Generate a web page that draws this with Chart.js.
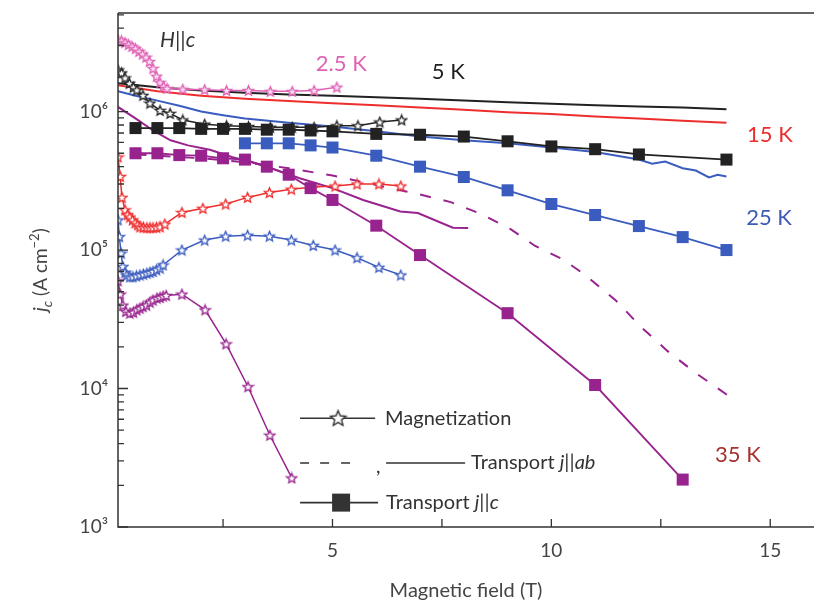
<!DOCTYPE html>
<html>
<head>
<meta charset="utf-8">
<script src="https://cdn.jsdelivr.net/npm/chart.js@4.4.0/dist/chart.umd.min.js"></script>
<style>
  html, body { margin: 0; padding: 0; background: #fff; }
</style>
</head>
<body>
<canvas id="myChart" width="814" height="605"></canvas>
<script>
// magnetic field (T) and jc (A cm^-2)

// magnetization (stars)
const mag2p5X = [0.1,0.18,0.26,0.34,0.42,0.5,0.58,0.66,0.74,0.82,0.9,0.98,1.06,1.14,1.22,1.58,2.08,2.58,3.08,3.58,4.08,4.58,5.1];
const mag2p5Y = [3.3e6,3.25e6,3.15e6,3.05e6,2.95e6,2.85e6,2.72e6,2.6e6,2.47e6,2.3e6,2.05e6,1.8e6,1.62e6,1.52e6,1.47e6,1.45e6,1.44e6,1.42e6,1.42e6,1.4e6,1.4e6,1.42e6,1.5e6];

const mag5X = [0.1,0.18,0.26,0.36,0.45,0.53,0.67,0.83,1.06,1.29,1.58,2.08,2.58,3.08,3.58,4.08,4.58,5.1,5.58,6.08,6.58];
const mag5Y = [2.0e6,1.9e6,1.75e6,1.6e6,1.5e6,1.43e6,1.31e6,1.15e6,1.02e6,9.7e5,8.7e5,8.1e5,7.9e5,7.8e5,7.7e5,7.7e5,7.7e5,7.9e5,7.9e5,8.4e5,8.7e5];

const mag15X = [0.1,0.15,0.19,0.26,0.32,0.37,0.43,0.49,0.55,0.6,0.68,0.76,0.83,0.9,0.98,1.06,1.17,1.56,2.04,2.56,3.06,3.56,4.06,4.56,5.06,5.56,6.06,6.56];
const mag15Y = [4.7e5,3.4e5,2.4e5,1.95e5,1.8e5,1.73e5,1.65e5,1.57e5,1.52e5,1.47e5,1.46e5,1.45e5,1.45e5,1.45e5,1.46e5,1.47e5,1.54e5,1.87e5,2.0e5,2.15e5,2.4e5,2.6e5,2.75e5,2.85e5,2.9e5,3.0e5,3.0e5,2.9e5];

const mag25X = [0.1,0.13,0.17,0.21,0.26,0.3,0.37,0.44,0.52,0.6,0.68,0.76,0.83,0.9,0.98,1.06,1.13,1.56,2.08,2.56,3.06,3.56,4.06,4.56,5.06,5.56,6.06,6.56];
const mag25Y = [1.65e5,1.25e5,9.5e4,7.6e4,6.9e4,6.6e4,6.4e4,6.4e4,6.5e4,6.6e4,6.7e4,6.8e4,6.9e4,7.0e4,7.2e4,7.4e4,7.8e4,1.0e5,1.18e5,1.26e5,1.28e5,1.26e5,1.18e5,1.08e5,1.0e5,8.8e4,7.5e4,6.6e4];

const mag35X = [0.1,0.15,0.21,0.28,0.37,0.45,0.53,0.6,0.67,0.75,0.83,0.9,0.99,1.06,1.13,1.2,1.56,2.09,2.57,3.07,3.57,4.07];
const mag35Y = [6.0e4,4.8e4,4.0e4,3.6e4,3.5e4,3.55e4,3.7e4,3.8e4,3.9e4,4.0e4,4.2e4,4.35e4,4.5e4,4.55e4,4.65e4,4.7e4,4.8e4,3.7e4,2.1e4,1.03e4,4.6e3,2.26e3];

// transport j||ab (lines)
const ab5X = [0.1,1,2,3,4,5,6,7,8,9,10,11,12,13,14];
const ab5Y = [1.6e6,1.5e6,1.42e6,1.37e6,1.33e6,1.3e6,1.27e6,1.24e6,1.2e6,1.17e6,1.14e6,1.11e6,1.09e6,1.07e6,1.04e6];

const ab15X = [0.1,1,2,3,4,5,6,7,8,9,10,11,12,13,14];
const ab15Y = [1.55e6,1.4e6,1.3e6,1.24e6,1.19e6,1.15e6,1.11e6,1.07e6,1.03e6,9.9e5,9.6e5,9.2e5,8.9e5,8.6e5,8.3e5];

const ab25X = [0.1,0.5,1,1.5,2,2.5,3,4,5,6,7,8,9,10,10.5,11,11.5,12,12.3,12.6,13,13.3,13.6,13.8,14];
const ab25Y = [1.4e6,1.3e6,1.2e6,1.1e6,1.0e6,9.4e5,8.9e5,8.3e5,7.8e5,7.2e5,6.6e5,6.2e5,5.9e5,5.5e5,5.3e5,5.1e5,4.8e5,4.5e5,4.2e5,4.35e5,3.9e5,3.75e5,3.35e5,3.5e5,3.4e5];

const ab35X = [0.1,0.55,0.9,1.3,1.7,2.2,2.7,3.4,4.25,5.0,5.7,6.55,6.95,7.75,8.1];
const ab35Y = [1.08e6,8.7e5,7.3e5,6.2e5,5.7e5,5.3e5,4.7e5,4.1e5,3.3e5,2.8e5,2.3e5,1.9e5,1.85e5,1.45e5,1.44e5];

const ab35dashX = [0.5,1,2,3,4,5,6,6.95,7.7,8.4,9.06,9.63,10.25,10.75,11.48,12.05,12.65,13.26,14.06];
const ab35dashY = [4.9e5,4.8e5,4.6e5,4.3e5,3.9e5,3.45e5,2.95e5,2.54e5,2.22e5,1.82e5,1.42e5,1.07e5,8.6e4,6.7e4,4.3e4,2.78e4,1.87e4,1.32e4,8.8e3];

// transport j||c (squares)
const c5X = [0.5,1,1.5,2,2.5,3,3.5,4,4.5,5,6,7,8,9,10,11,12,14];
const c5Y = [7.6e5,7.6e5,7.6e5,7.5e5,7.5e5,7.5e5,7.4e5,7.4e5,7.3e5,7.2e5,6.9e5,6.8e5,6.6e5,6.1e5,5.6e5,5.35e5,4.9e5,4.5e5];

const c25X = [3,3.5,4,4.5,5,6,7,8,9,10,11,12,13,14];
const c25Y = [5.9e5,5.9e5,5.9e5,5.7e5,5.5e5,4.8e5,4.0e5,3.37e5,2.7e5,2.15e5,1.79e5,1.49e5,1.24e5,1.0e5];

const c35X = [0.5,1,1.5,2,2.5,3,3.5,4,4.5,5,6,7,9,11,13];
const c35Y = [5.0e5,5.0e5,4.85e5,4.8e5,4.6e5,4.5e5,4.0e5,3.5e5,2.8e5,2.3e5,1.5e5,9.2e4,3.5e4,1.06e4,2.2e3];

// axis ticks
const xTickVals = [2.5, 5, 7.5, 10, 12.5, 15];
const xLabelVals = [5, 10, 15];
const yDecades = [3, 4, 5, 6];

// temperature labels, anchored in data coordinates
const tempLabels = [
  { text: "2.5 K", x: 4.62, y: 2.2e6, color: "#e062b6" },
  { text: "5 K", x: 7.27, y: 1.93e6, color: "#222222" },
  { text: "15 K", x: 14.47, y: 6.8e5, color: "#ee2d2d" },
  { text: "25 K", x: 14.45, y: 1.7e5, color: "#3d5bb3" },
  { text: "35 K", x: 13.74, y: 3.3e3, color: "#a5322f" }
];

const PINK = "#e062b6", BLACK = "#222222", RED = "#ee2d2d", BLUE = "#3b5cbf", PURPLE = "#98238e";
const FONT = "Lato, 'Open Sans', sans-serif";

function pts(xs, ys) {
  return xs.map((v, i) => ({ x: v, y: ys[i] }));
}

function starImage(color, size, lw, fill) {
  const c = document.createElement("canvas");
  c.width = size; c.height = size;
  const g = c.getContext("2d");
  const R = size / 2 - lw, r = R * 0.45, cx = size / 2, cy = size / 2 + 0.5;
  g.beginPath();
  for (let i = 0; i < 10; i++) {
    const a = -Math.PI / 2 + i * Math.PI / 5;
    const rad = i % 2 ? r : R;
    g.lineTo(cx + rad * Math.cos(a), cy + rad * Math.sin(a));
  }
  g.closePath();
  g.fillStyle = fill || "#fff";
  g.fill();
  g.lineWidth = lw;
  g.strokeStyle = color;
  g.stroke();
  return c;
}

function starSet(label, xs, ys, color, fill) {
  return {
    label: label, data: pts(xs, ys), order: 1,
    borderColor: color, backgroundColor: color, borderWidth: 1.5,
    pointStyle: starImage(color, 13, 1.3, fill), pointRadius: 6
  };
}

function squareSet(label, xs, ys, color) {
  return {
    label: label, data: pts(xs, ys), order: 0,
    borderColor: color, backgroundColor: color, borderWidth: 1.8,
    pointStyle: "rect", pointRadius: 8.5, pointBorderWidth: 0
  };
}

function lineSet(label, xs, ys, color, dash) {
  return {
    label: label, data: pts(xs, ys), order: 2,
    borderColor: color, backgroundColor: color, borderWidth: 2,
    borderDash: dash || [], pointRadius: 0
  };
}

const datasets = [
  squareSet("5 K j||c", c5X, c5Y, BLACK),
  squareSet("25 K j||c", c25X, c25Y, BLUE),
  squareSet("35 K j||c", c35X, c35Y, PURPLE),
  starSet("2.5 K magnetization", mag2p5X, mag2p5Y, PINK, "#f7dcee"),
  starSet("5 K magnetization", mag5X, mag5Y, BLACK),
  starSet("15 K magnetization", mag15X, mag15Y, RED),
  starSet("25 K magnetization", mag25X, mag25Y, BLUE),
  starSet("35 K magnetization", mag35X, mag35Y, PURPLE),
  lineSet("5 K j||ab", ab5X, ab5Y, BLACK),
  lineSet("15 K j||ab", ab15X, ab15Y, RED),
  lineSet("25 K j||ab", ab25X, ab25Y, BLUE),
  lineSet("35 K j||ab", ab35X, ab35Y, PURPLE),
  lineSet("35 K j||ab (dashed)", ab35dashX, ab35dashY, PURPLE, [11, 13])
];

const SUP = { "0": "⁰", "1": "¹", "2": "²", "3": "³", "4": "⁴", "5": "⁵", "6": "⁶", "7": "⁷", "8": "⁸", "9": "⁹" };

// draws frame, inward ticks, y title, temperature labels and the in-plot legend
const decor = {
  id: "decor",
  afterDraw(chart) {
    const ctx = chart.ctx, a = chart.chartArea, xs = chart.scales.x, ys = chart.scales.y;
    ctx.save();
    ctx.strokeStyle = "#333"; ctx.lineWidth = 1.5;
    ctx.beginPath();
    ctx.moveTo(a.left, a.top); ctx.lineTo(a.right, a.top);
    ctx.moveTo(a.left, a.top); ctx.lineTo(a.left, a.bottom); ctx.lineTo(a.right, a.bottom);
    ctx.stroke();

    ctx.lineWidth = 1.3;
    ctx.beginPath();
    xTickVals.forEach(v => {
      const px = xs.getPixelForValue(v);
      ctx.moveTo(px, a.bottom); ctx.lineTo(px, a.bottom - 8);
    });
    yDecades.forEach(e => {
      for (let k = 1; k <= 9; k++) {
        const v = k * Math.pow(10, e);
        if (v > ys.max) break;
        const py = ys.getPixelForValue(v);
        ctx.moveTo(a.left, py); ctx.lineTo(a.left + (k === 1 ? 10 : 6), py);
      }
    });
    ctx.stroke();

    // y axis title: j_c (A cm^-2)
    ctx.save();
    ctx.translate(40, (a.top + a.bottom) / 2);
    ctx.rotate(-Math.PI / 2);
    ctx.fillStyle = "#444";
    ctx.textBaseline = "alphabetic";
    const parts = [
      { t: "j", f: "italic 20px " + FONT, dy: 0 },
      { t: "c", f: "italic 14px " + FONT, dy: 5 },
      { t: " (A cm", f: "19px " + FONT, dy: 0 },
      { t: "−2", f: "13px " + FONT, dy: -8 },
      { t: ")", f: "19px " + FONT, dy: 0 }
    ];
    let total = 0;
    parts.forEach(p => { ctx.font = p.f; p.w = ctx.measureText(p.t).width; total += p.w; });
    let cx = -total / 2;
    parts.forEach(p => { ctx.font = p.f; ctx.fillText(p.t, cx, 7 + p.dy); cx += p.w; });
    ctx.restore();

    // temperature labels
    ctx.textBaseline = "middle";
    ctx.textAlign = "left";
    ctx.font = "22px " + FONT;
    tempLabels.forEach(l => {
      ctx.fillStyle = l.color;
      ctx.fillText(l.text, xs.getPixelForValue(l.x), ys.getPixelForValue(l.y));
    });
    ctx.fillStyle = "#333";
    ctx.font = "italic 21px " + FONT;
    ctx.fillText("H||c", xs.getPixelForValue(1.06), ys.getPixelForValue(3.28e6));

    // legend
    const lx = xs.getPixelForValue(4.26);
    const r1 = ys.getPixelForValue(6.1e3), r2 = ys.getPixelForValue(2.9e3), r3 = ys.getPixelForValue(1.5e3);
    ctx.strokeStyle = "#333"; ctx.fillStyle = "#333"; ctx.lineWidth = 1.6;
    ctx.beginPath();
    ctx.moveTo(lx, r1); ctx.lineTo(lx + 75, r1);
    [0, 20, 41].forEach(o => { ctx.moveTo(lx + o, r2); ctx.lineTo(lx + o + 9, r2); });
    ctx.moveTo(lx + 86, r2); ctx.lineTo(lx + 165, r2);
    ctx.moveTo(lx, r3); ctx.lineTo(lx + 78, r3);
    ctx.stroke();
    const big = starImage("#333", 19, 1.4);
    ctx.drawImage(big, lx + 38 - 9.5, r1 - 9.5);
    ctx.fillRect(lx + 32, r3 - 9, 18, 18);
    ctx.font = "20px " + FONT;
    ctx.fillText("Magnetization", lx + 85, r1);
    ctx.fillText(",", lx + 76, r2 + 4);
    const legendText = (x0, y0, plain, ital) => {
      ctx.font = "20px " + FONT;
      ctx.fillText(plain, x0, y0);
      const w = ctx.measureText(plain).width;
      ctx.font = "italic 20px " + FONT;
      ctx.fillText(ital, x0 + w, y0);
    };
    legendText(lx + 171, r2, "Transport ", "j||ab");
    legendText(lx + 86, r3, "Transport ", "j||c");
    ctx.restore();
  }
};

const ctx = document.getElementById("myChart").getContext("2d");

const chart = new Chart(ctx, {
  type: "line",
  data: { datasets: datasets },
  options: {
    responsive: false,
    animation: false,
    devicePixelRatio: 1,
    layout: { autoPadding: false, padding: { top: 13, right: 0, left: 0, bottom: 0 } },
    plugins: { legend: { display: false }, tooltip: { enabled: false } },
    elements: { line: { tension: 0 } },
    scales: {
      x: {
        type: "linear", min: 0.1, max: 16,
        grid: { display: false, drawTicks: false },
        border: { display: false },
        ticks: {
          stepSize: 2.5, autoSkip: false, maxRotation: 0, padding: 12,
          color: "#444", font: { family: FONT, size: 19 },
          callback: v => xLabelVals.includes(v) ? String(v) : ""
        },
        title: {
          display: true, text: "Magnetic field (T)", color: "#444",
          font: { family: FONT, size: 20 }, padding: { top: 0, bottom: 2 }
        },
        afterFit: s => { s.height = 78; s.paddingLeft = 0; s.paddingRight = 0; }
      },
      y: {
        type: "logarithmic", min: 1000, max: 5.15e6,
        grid: { display: false, drawTicks: false },
        border: { display: false },
        ticks: {
          autoSkip: false, padding: 10, color: "#444", font: { family: FONT, size: 19 },
          callback: v => {
            const e = Math.log10(v);
            if (Math.abs(e - Math.round(e)) > 1e-9) return "";
            return "10" + String(Math.round(e)).split("").map(d => SUP[d]).join("");
          }
        },
        afterFit: s => { s.width = 118; s.paddingTop = 0; s.paddingBottom = 0; }
      }
    }
  },
  plugins: [decor]
});
</script>
</body>
</html>
